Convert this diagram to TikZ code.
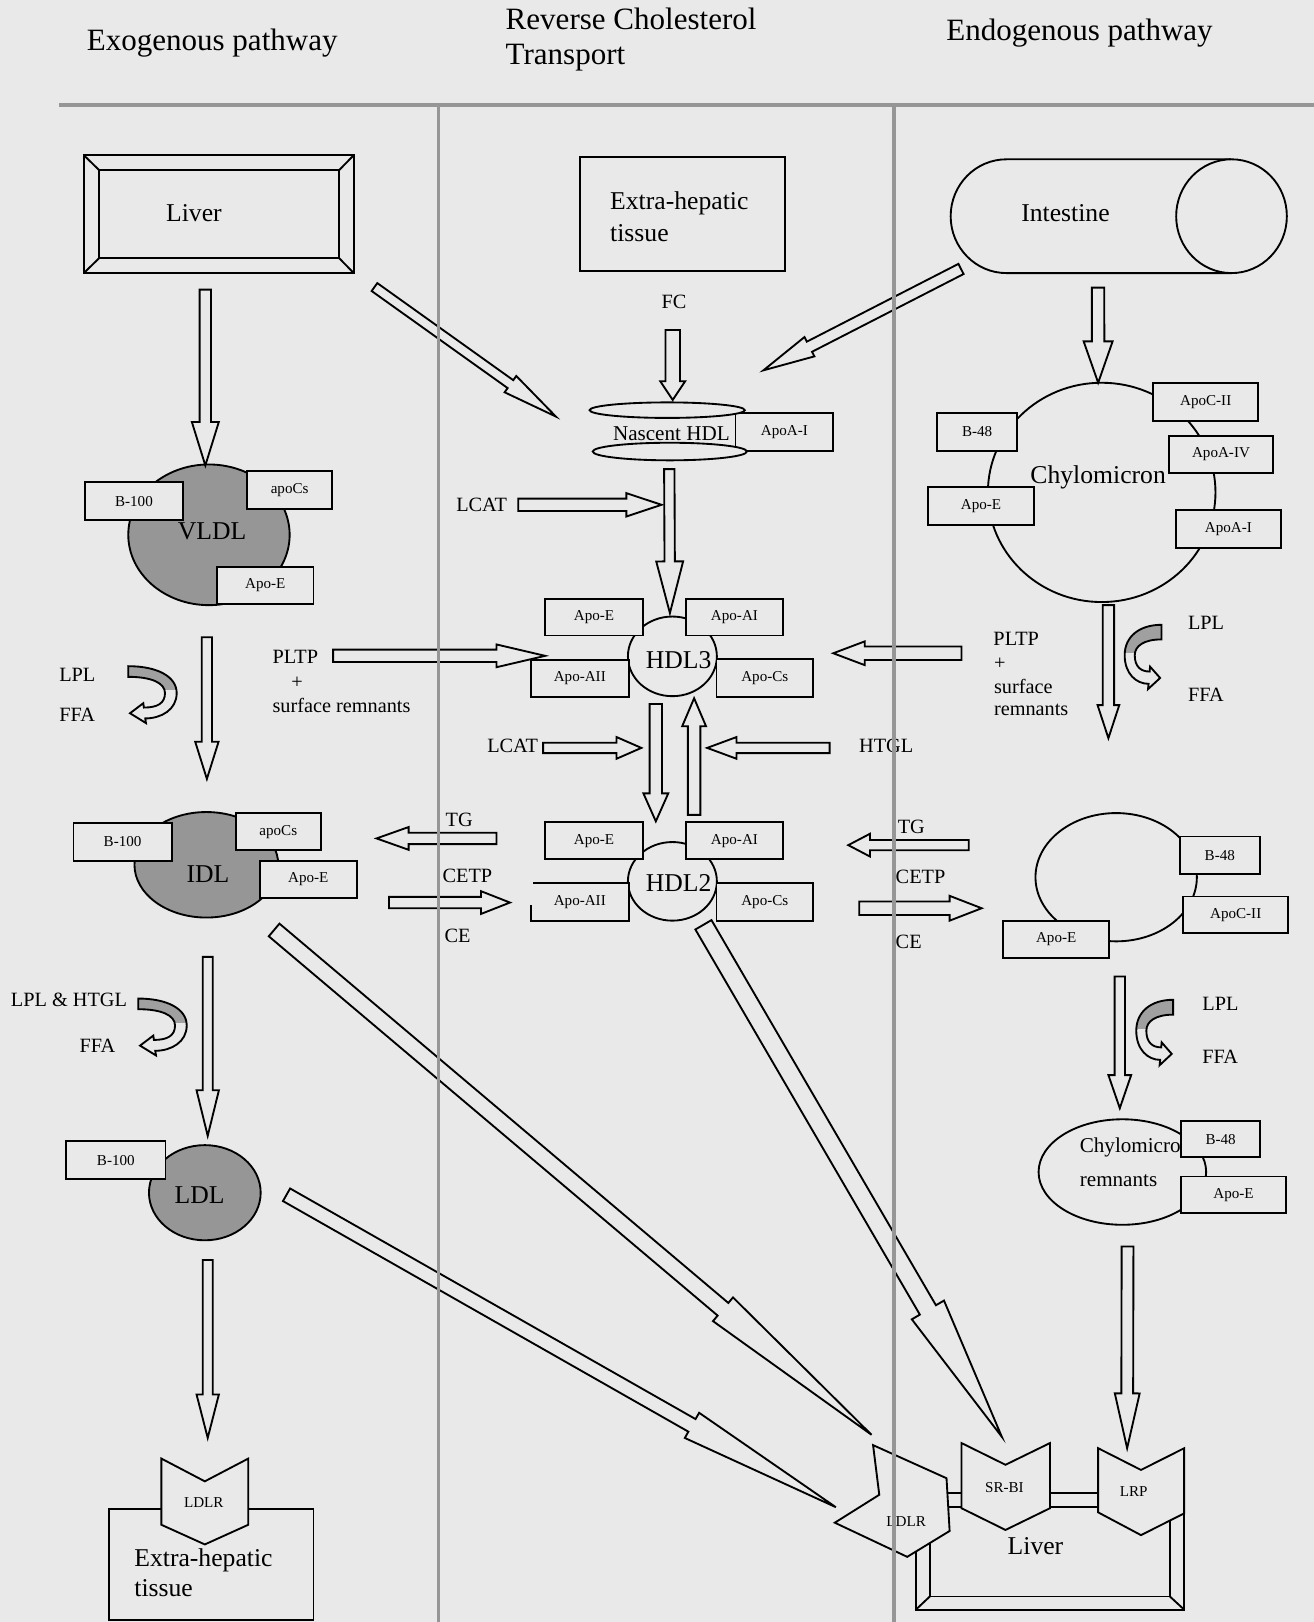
\documentclass[tikz,border=0pt]{standalone}
\usepackage{fontspec}
\setmainfont{Liberation Serif}
\usetikzlibrary{calc,shapes.geometric}
\definecolor{bg}{RGB}{233,233,233}
\definecolor{lip}{RGB}{150,150,150}
\definecolor{band}{RGB}{160,160,160}
\definecolor{rulec}{RGB}{150,150,150}
\newcommand\fsH{\fontsize{15pt}{17pt}\selectfont}
\newcommand\fsL{\fontsize{12.4pt}{14pt}\selectfont}
\newcommand\fsM{\fontsize{9.8pt}{11.5pt}\selectfont}
\newcommand\fsN{\fontsize{10.2pt}{16pt}\selectfont}
\newcommand\fsS{\fontsize{7.3pt}{8.5pt}\selectfont}
\newcommand\pbox[6]{\node[pbox, minimum width={(#4-#2)*0.5pt}, minimum height={(#5-#3)*0.5pt}] (#1) at ({(#2+#4)/2},{(#3+#5)/2}) {#6};}
\newcommand\pell[6]{\node[ell, fill=#6, minimum width={#4*1pt}, minimum height={#5*1pt}] (#1) at (#2,#3) {};}
\newcommand\barrow[5]{%
 \pgfmathsetmacro\arW{#3*0.5}\pgfmathsetmacro\arH{#4*0.5}\pgfmathsetmacro\arL{#5*0.5}%
 \coordinate (tmpH) at ($(#2)!\arL pt!(#1)$);%
 \draw[arr] ($(#1)!\arW pt!90:(#2)$) -- ($(tmpH)!\arW pt!90:(#2)$) -- ($(tmpH)!\arH pt!90:(#2)$) -- (#2) -- ($(tmpH)!\arH pt!-90:(#2)$) -- ($(tmpH)!\arW pt!-90:(#2)$) -- ($(#1)!\arW pt!-90:(#2)$) -- cycle;}
\newcommand\curvpath{(0,0) .. controls (28,0) and (46.8,10) .. (46.8,26) .. controls (46.8,42) and (32,50.5) .. (16.4,50.5) -- (17.1,55) -- (1.7,45.5) -- (14.5,35.8) -- (15.1,40) .. controls (28,40) and (35.5,36) .. (35.5,26) .. controls (35.5,16) and (22,10.3) .. (0,10.3) -- cycle}
\newcommand\curvpathB{(0,0) .. controls (28,0) and (46.8,10) .. (46.8,26) .. controls (46.8,42) and (32,50.5) .. (16.4,50.5) -- (17.1,55) -- (1.7,45.5) -- (14.5,35.8) -- (15.1,40) .. controls (26,40) and (34,36) .. (34,26) .. controls (34,18) and (22,12.5) .. (0,12.5) -- cycle}
\newcommand\curv[4]{\begin{scope}[shift={(#1,#2)},xscale=#3,yscale=#4]
 \fill[bg] \curvpath;
 \begin{scope}\clip (-5,-5) rectangle (60,23); \fill[band] \curvpath; \end{scope}
 \draw \curvpath;
\end{scope}}
\newcommand\curvB[4]{\begin{scope}[shift={(#1,#2)},xscale=#3,yscale=#4]
 \fill[bg] \curvpathB;
 \begin{scope}\clip (-5,-5) rectangle (60,24); \fill[band] \curvpathB; \end{scope}
 \draw \curvpathB;
\end{scope}}
\begin{document}
\begin{tikzpicture}[x=0.5pt,y=-0.5pt,line width=0.9pt,
 arr/.style={draw=black,fill=bg,line width=0.9pt,line join=miter},
 pbox/.style={draw,fill=bg,inner sep=0pt,font=\fsS},
 ell/.style={draw,ellipse,inner sep=0pt},
 lbl/.style={inner sep=0pt,font=\fsM},
 big/.style={inner sep=0pt,font=\fsL},
 small/.style={inner sep=0pt,font=\fsS},
 hd/.style={inner sep=0pt,font=\fsH,align=left}]
\fill[bg] (0,0) rectangle (1270,1568);
\useasboundingbox (0,0) rectangle (1270,1568);

% headings
\node[hd, anchor=west] (hExo) at (83,42) {Exogenous pathway};
\node[hd, anchor=west] (hRev) at (488,38) {Reverse Cholesterol\\Transport};
\node[hd, anchor=west] (hEndo) at (914,32) {Endogenous pathway};

% ---------- top sources
\draw (81,150) rectangle (342,264);
\draw (95.7,164.3) rectangle (328,249.7);
\draw (81,150) -- (95.7,164.3) (342,150) -- (328,164.3) (81,264) -- (95.7,249.7) (342,264) -- (328,249.7);
\node[big] (liverT) at (187.5,206) {Liver};

\pbox{ehTop}{561}{152}{759}{262}{}
\node[big, anchor=west] (ehT1) at (589,197) {Extra-hepatic};
\node[big, anchor=west] (ehT2) at (589,225) {tissue};

\draw (1190,154) -- (973,154) arc[start angle=90, end angle=270, x radius=27pt, y radius=27.5pt] -- (1190,264);
\pell{intR}{1190.5}{209}{53.5}{55}{bg}
\node[big] (intT) at (1030,206) {Intestine};

% ---------- lipoprotein particles
\pell{vldl}{202}{517}{78}{68}{lip}
\pbox{vB}{82}{466}{177}{503}{B-100}
\pbox{vC}{239}{455}{321}{492}{apoCs}
\pbox{vE}{210}{548}{303}{584}{Apo-E}
\node[big] (vldlT) at (205,514) {VLDL};

\pell{idl}{199.5}{836}{69.5}{51}{lip}
\pbox{iB}{71}{796}{166}{832}{B-100}
\pbox{iC}{228}{786}{310}{822}{apoCs}
\pbox{iE}{251}{832}{345}{868}{Apo-E}
\node[big] (idlT) at (201,845) {IDL};

\pell{ldl}{198}{1153}{54}{46}{lip}
\pbox{lB}{64}{1103}{160}{1140}{B-100}
\node[big] (ldlT) at (193,1155) {LDL};

\pbox{nA}{711}{399}{805.5}{435.6}{ApoA-I}
\pell{nUp}{645}{396.5}{75}{7.5}{bg}
\pell{nLo}{647.5}{436.5}{74.5}{8.5}{bg}
\node[inner sep=0pt,font=\fsN] (nT) at (649,419) {Nascent HDL};

\pell{hdl3}{650}{634.5}{43}{38.5}{bg}
\pbox{h3E}{526.8}{579}{621.8}{614.4}{Apo-E}
\pbox{h3AI}{663}{579}{757}{614.4}{Apo-AI}
\pbox{h3AII}{513}{638}{608}{673.4}{Apo-AII}
\pbox{h3C}{692.7}{637}{786}{673.4}{Apo-Cs}
\node[big] (hdl3T) at (656,638) {HDL3};

\pell{hdl2}{650}{852}{43}{38}{bg}
\pbox{h2E}{526.8}{795}{621.8}{830.6}{Apo-E}
\pbox{h2AI}{663}{795}{757}{830.6}{Apo-AI}
\node[fill=bg, inner sep=0pt, font=\fsS, minimum width=47.5pt, minimum height=18.1pt] (h2AII) at (560.5,871.9) {Apo-AII};
\draw (515.5,853.8) -- (608,853.8) -- (608,890) -- (513,890) -- (513,874.7);
\pbox{h2C}{692.7}{853.8}{786}{890}{Apo-Cs}
\node[big] (hdl2T) at (656,854) {HDL2};

\pell{chy}{1065}{476}{110}{106}{bg}
\pbox{cC}{1114.8}{370}{1216.3}{407}{ApoC-II}
\pbox{cB}{906}{399.5}{983.3}{435.6}{B-48}
\pbox{cAIV}{1130}{421.4}{1230.7}{457.5}{ApoA-IV}
\pbox{cE}{897.3}{470.4}{999.4}{507.4}{Apo-E}
\pbox{cAI}{1136.7}{493}{1238.2}{529.4}{ApoA-I}
\node[big] (chyT) at (1061.6,461.4) {Chylomicron};

\pell{chy2}{1079}{848}{78}{62}{bg}
\pbox{c2B}{1140.5}{808.7}{1217.9}{844.8}{B-48}
\pbox{c2C}{1143.8}{866.7}{1245.3}{902}{ApoC-II}
\pbox{c2E}{969.8}{890}{1072.2}{926.3}{Apo-E}

\pell{rem}{1085}{1133}{81}{51}{bg}
\node[inner sep=0pt,font=\fsN,anchor=west] (remT1) at (1043,1109) {Chylomicron};
\node[inner sep=0pt,font=\fsN,anchor=west] (remT2) at (1043,1141) {remnants};
\pbox{rB}{1142}{1084}{1217.9}{1118.6}{B-48}
\pbox{rE}{1142}{1137.3}{1243}{1172.7}{Apo-E}

% ---------- targets
\pbox{ehBot}{105}{1459}{303}{1566}{}
\draw[arr] (156,1410) -- (198,1432) -- (240,1410) -- (240,1474) -- (198,1493) -- (156,1474) -- cycle;
\node[small] (ldlrL) at (197,1453) {LDLR};
\node[big, anchor=west] (ehB1) at (129,1508) {Extra-hepatic};
\node[big, anchor=west] (ehB2) at (129,1535) {tissue};

\draw (885.4,1443.4) rectangle (1144.7,1556);
\draw (898.9,1457.2) rectangle (1130.9,1543.3);
\draw (885.4,1443.4) -- (898.9,1457.2) (1144.7,1443.4) -- (1130.9,1457.2) (885.4,1556) -- (898.9,1543.3) (1144.7,1556) -- (1130.9,1543.3);
\draw[arr] (844,1397) -- (915,1429) -- (918,1480) -- (877,1505) -- (807,1472) -- (850,1445) -- cycle;
\draw[arr] (929.5,1395) -- (972,1416) -- (1015,1395) -- (1015,1458) -- (972,1479) -- (929.5,1458) -- cycle;
\draw[arr] (1061.6,1400) -- (1103,1421) -- (1144.7,1400) -- (1144.7,1463) -- (1103,1484) -- (1061.6,1462) -- cycle;
\node[small] (ldlrR) at (876,1471) {LDLR};
\node[small] (srbi) at (971,1438) {SR-BI};
\node[small] (lrp) at (1096,1442) {LRP};
\node[big] (liverB) at (1001,1495) {Liver};

% ---------- arrow end points
\coordinate (a1s) at (198.5,280);   \coordinate (a1e) at (198.5,450);
\coordinate (a2s) at (200,616);     \coordinate (a2e) at (200,753);
\coordinate (a3s) at (200.8,925);   \coordinate (a3e) at (200.8,1098);
\coordinate (a4s) at (200.8,1218);  \coordinate (a4e) at (200.8,1390);
\coordinate (pLs) at (322,634);     \coordinate (pLe) at (527,634);
\coordinate (tLs) at (480,810.5);   \coordinate (tLe) at (364,810.5);
\coordinate (cLs) at (376,872.5);   \coordinate (cLe) at (493,872.5);
\coordinate (l1s) at (501,488);     \coordinate (l1e) at (639.5,488);
\coordinate (fcs) at (650.3,319);   \coordinate (fce) at (650.3,386.6);
\coordinate (n3s) at (647,453.5);   \coordinate (n3e) at (647.6,592.7);
\coordinate (d32s) at (634,680.5);  \coordinate (d32e) at (634,794);
\coordinate (u23s) at (671,787.7);  \coordinate (u23e) at (671,675);
\coordinate (l2s) at (525,723);     \coordinate (l2e) at (620,723);
\coordinate (hgs) at (802,723);     \coordinate (hge) at (683.6,723);
\coordinate (pRs) at (929.5,631.5); \coordinate (pRe) at (805.5,631.5);
\coordinate (tRs) at (936.5,817);   \coordinate (tRe) at (820,817);
\coordinate (cRs) at (830.6,878);   \coordinate (cRe) at (949,878);
\coordinate (ics) at (1061.5,278);  \coordinate (ice) at (1061.6,370);
\coordinate (c2s) at (1071.5,585);  \coordinate (c2e) at (1071.5,713.6);
\coordinate (c3s) at (1082.5,944);  \coordinate (c3e) at (1082.5,1071.3);
\coordinate (c4s) at (1090,1205);   \coordinate (c4e) at (1089.6,1400);
\coordinate (z1s) at (362,277.5);   \coordinate (z1e) at (537.4,402.7);
\coordinate (z2s) at (929,260);     \coordinate (z2e) at (738,358);
\coordinate (z3s) at (265,899);     \coordinate (z3e) at (842.5,1387);
\coordinate (z4s) at (277,1155);    \coordinate (z4e) at (808,1457);
\coordinate (z5s) at (680,894);     \coordinate (z5e) at (968.5,1389);

% ---------- block arrows
\barrow{a1s}{a1e}{5.5}{13}{42}
\barrow{a2s}{a2e}{5}{11.3}{36}
\barrow{a3s}{a3e}{4.8}{10.8}{44}
\barrow{a4s}{a4e}{4.8}{10.8}{42}
\barrow{pLs}{pLe}{6}{11}{47}
\barrow{tLs}{tLe}{5.5}{11}{31}
\barrow{cLs}{cLe}{5.5}{11}{28}
\barrow{l1s}{l1e}{6}{11.3}{34}
\barrow{fcs}{fce}{7}{12}{18}
\barrow{n3s}{n3e}{5}{13}{50}
\barrow{d32s}{d32e}{6}{12}{27}
\barrow{u23s}{u23e}{6}{11.5}{27}
\barrow{l2s}{l2e}{5}{10.5}{24}
\barrow{hgs}{hge}{5}{10.5}{28.4}
\barrow{pRs}{pRe}{6.5}{11.5}{30.5}
\barrow{tRs}{tRe}{5}{11}{21}
\barrow{cRs}{cRe}{6.5}{12}{31}
\barrow{ics}{ice}{6}{14}{40}
\barrow{c2s}{c2e}{5.5}{10.5}{32}
\barrow{c3s}{c3e}{5}{11}{32}
\barrow{c4s}{c4e}{5.7}{12}{53}
% notched long arrows
\barrow{z1s}{z1e}{4.7}{9.7}{54}
\barrow{z2s}{z2e}{5.5}{10.5}{50}
\barrow{z3s}{z3e}{8}{15}{188}
\barrow{z4s}{z4e}{7}{14}{160}
\barrow{z5s}{z5e}{9}{18}{142}

% ---------- curved enzyme arrows
\curv{124}{644}{1}{1}
\curv{133.7}{965.3}{1}{1}
\curvB{1122.8}{604}{-0.76}{1.13}
\curvB{1134}{966.5}{-0.76}{1.15}

% ---------- labels
\node[lbl] (fcT) at (651.5,291.6) {FC};
\node[lbl, anchor=east] (lcat1T) at (491,488) {LCAT};
\node[lbl, anchor=east] (lcat2T) at (521,721) {LCAT};
\node[lbl, anchor=west] (pL1) at (262.6,635) {PLTP};
\node[lbl] (pL2) at (287.3,660) {+};
\node[lbl, anchor=west] (pL3) at (262.6,682) {surface remnants};
\node[lbl, anchor=west] (pR1) at (959.5,618) {PLTP};
\node[lbl, anchor=west] (pR2) at (960,641.5) {+};
\node[lbl, anchor=west] (pR3) at (960,664) {surface};
\node[lbl, anchor=west] (pR4) at (960,686.7) {remnants};
\node[lbl, anchor=west] (lpl1) at (56.4,652.4) {LPL};
\node[lbl, anchor=west] (ffa1) at (56.4,691) {FFA};
\node[lbl, anchor=west] (lpl2) at (9.7,967) {LPL \& HTGL};
\node[lbl, anchor=west] (ffa2) at (76,1011) {FFA};
\node[lbl, anchor=west] (lpl3) at (1147.6,602.5) {LPL};
\node[lbl, anchor=west] (ffa3) at (1147.6,671.7) {FFA};
\node[lbl, anchor=west] (lpl4) at (1161.5,970.8) {LPL};
\node[lbl, anchor=west] (ffa4) at (1161.5,1021.3) {FFA};
\node[lbl, anchor=west] (tgL) at (430,793) {TG};
\node[lbl, anchor=west] (cetpL) at (427,847) {CETP};
\node[lbl, anchor=west] (ceL) at (429,905) {CE};
\node[lbl, anchor=west] (tgR) at (867,799) {TG};
\node[lbl, anchor=west] (cetpR) at (865,847.4) {CETP};
\node[lbl, anchor=west] (ceR) at (865,911) {CE};
\node[lbl, anchor=west] (htgl) at (829.6,720.8) {HTGL};

% ---------- column rules (on top)
\coordinate (r0) at (57,101.5); \coordinate (r1) at (1270,101.5);
\coordinate (v1a) at (424,101.5); \coordinate (v1b) at (424,1568);
\coordinate (v2a) at (864,101.5); \coordinate (v2b) at (864,1568);
\draw[rulec, line width=2.2pt] (r0) -- (r1);
\draw[rulec, line width=1.8pt] (v1a) -- (v1b);
\draw[rulec, line width=1.8pt] (v2a) -- (v2b);
\end{tikzpicture}
\end{document}
